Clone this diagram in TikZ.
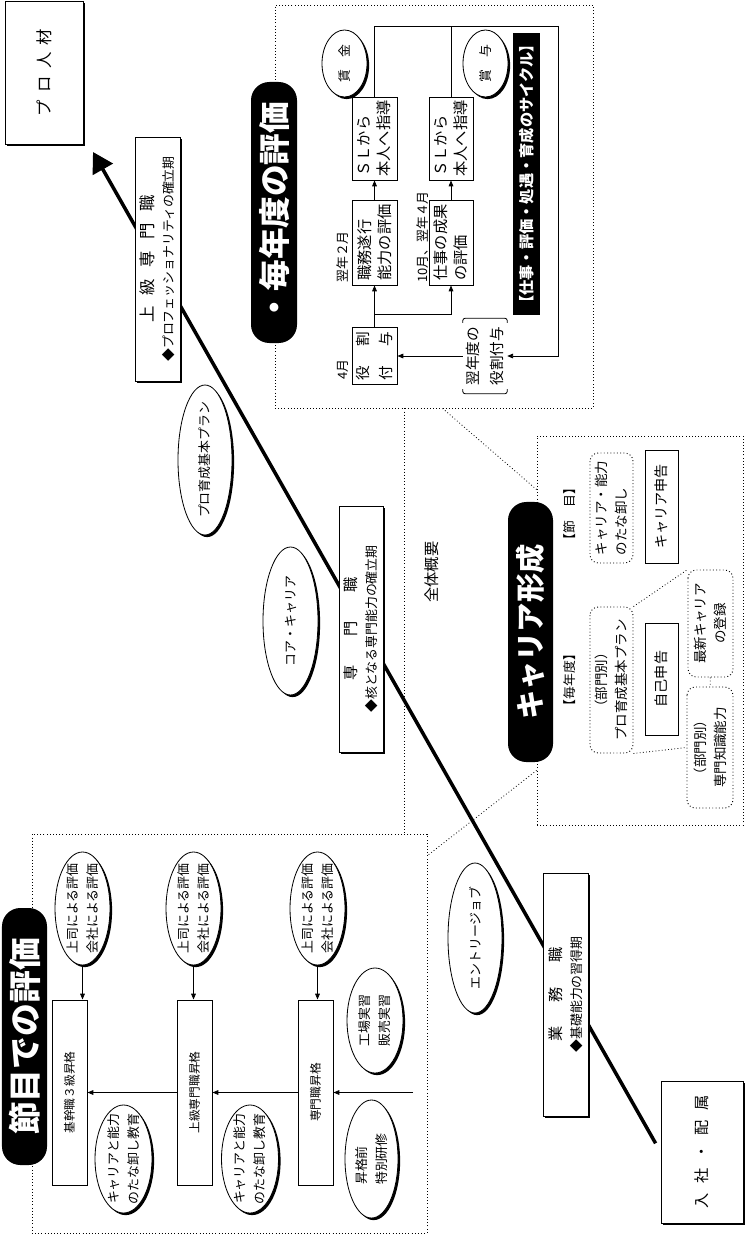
\documentclass[tikz,border=0pt]{standalone}
\usepackage{fontspec}
\setmainfont{Noto Sans CJK JP}
\usetikzlibrary{arrows.meta, shapes.geometric, shadows, calc, backgrounds}
\newcommand{\jsp}[1]{\hspace{#1em}}

\begin{document}
\begin{tikzpicture}[x=0.03cm, y=-0.03cm,
  base/.style={rotate=90, inner sep=0pt, align=center, font=\fontsize{11}{17}\selectfont},
  shade/.style={drop shadow={shadow xshift=1.8pt, shadow yshift=-1.8pt, opacity=1, fill=black}},
  mainbox/.style={base, draw, fill=white, line width=0.8pt, shade},
  oval/.style={base, ellipse, draw, fill=white, line width=0.7pt, inner sep=-20pt, shade},
  box/.style={base, draw, fill=white, line width=0.8pt},
  dbox/.style={base, draw, dotted, line width=0.8pt, rounded corners=7pt, font=\fontsize{11.5}{17}\selectfont},
  pill/.style={base, fill=black, text=white, rounded corners=0.55cm, font=\fontsize{27}{30}\selectfont\bfseries},
  panel/.style={draw, dotted, line width=0.7pt, inner sep=0pt},
  lbl/.style={base},
  arr/.style={-{Triangle[length=5pt,width=4pt]}, line width=0.7pt},
  dotline/.style={dotted, line width=0.7pt},
  mainline/.style={line width=3pt, -{Triangle[length=0.6cm,width=0.68cm]}}
]
\useasboundingbox (0,0) rectangle (745,1237);

% dotted panels
\node[panel, minimum width=9.54cm, minimum height=12.09cm] (nenpanel) at (434,206.5) {};
\node[panel, minimum width=6.18cm, minimum height=11.67cm] (carpanel) at (640,630.5) {};
\node[panel, minimum width=11.85cm, minimum height=11.97cm] (fushipanel) at (229.5,1033.5) {};
\draw[dotline] ($(nenpanel.south west)+(130,0)$) coordinate (vtop) -- (vtop |- fushipanel.north);
\draw[dotline] ($(nenpanel.south west)+(168,0)$) -- ($(carpanel.north west)+(0,54)$);
\draw[dotline] ($(carpanel.south west)+(0,-55)$) -- ($(fushipanel.north east)+(0,22)$);

\node[lbl, font=\fontsize{13}{15}\selectfont] (zentai) at (432,572) {全体概要};

% main steps
\node[mainbox, minimum width=4.29cm, minimum height=2.34cm, font=\fontsize{14}{16}\selectfont] (pro) at (44,72.5) {プ\jsp{.45}ロ\jsp{.45}人\jsp{.45}材};
\node[mainbox, minimum width=7.32cm, minimum height=1.35cm] (jokyu) at (157.5,259)
  {{\fontsize{14}{16}\selectfont 上\jsp{.7}級\jsp{.7}専\jsp{.7}門\jsp{.7}職}\\◆プロフェッショナリティの確立期};
\node[mainbox, minimum width=7.38cm, minimum height=1.32cm] (senmon) at (361,629)
  {{\fontsize{13}{16}\selectfont 専\jsp{1.9}門\jsp{1.9}職}\\◆核となる専門能力の確立期};
\node[mainbox, minimum width=7.29cm, minimum height=1.35cm] (gyomu) at (565.5,994.5)
  {{\fontsize{13}{16}\selectfont 業\jsp{1.6}務\jsp{1.6}職}\\◆基礎能力の習得期};
\node[mainbox, minimum width=4.26cm, minimum height=2.46cm, font=\fontsize{13}{16}\selectfont] (nyusha) at (702,1152) {入\jsp{.6}社\jsp{.6}・\jsp{.6}配\jsp{.6}属};
\coordinate (tip) at (93,152);
\begin{scope}[on background layer]
  \draw[mainline, shorten <=0.3cm] (nyusha.north) -- (tip);
\end{scope}

\node[oval, minimum width=4.5cm, minimum height=1.62cm] (proplan) at (205,460) {プロ育成基本プラン};
\node[oval, minimum width=4.44cm, minimum height=1.65cm] (core) at (290.5,621) {コア・キャリア};
\node[oval, minimum width=4.5cm, minimum height=1.62cm] (entry) at (475,938) {エントリージョブ};

% yearly evaluation
\node[pill, minimum width=7.83cm, minimum height=1.38cm] (nenpill) at (274,212.5) {・毎年度の評価};
\node[box, minimum width=1.71cm, minimum height=1.35cm, font=\fontsize{12.5}{20}\selectfont] (wari) at (374.5,356) {役\jsp{1.3}割\\付\jsp{1.3}与};
\node[lbl, anchor=west] (apr) at (343,380) {4月};
\node[box, minimum width=2.55cm, minimum height=1.35cm, align=left, font=\fontsize{13}{17}\selectfont] (shokumu) at (374.5,242.5) {職務遂行\\能力の評価};
\node[lbl, anchor=west] (feb) at (343,283) {翌年２月};
\node[box, minimum width=2.49cm, minimum height=1.35cm, align=left, font=\fontsize{13}{17}\selectfont] (slA) at (374.5,138.5) {ＳＬから\\本人へ指導};
\node[box, minimum width=2.55cm, minimum height=1.32cm, align=left, font=\fontsize{13}{17}\selectfont] (seika) at (451,242.5) {仕事の成果\\の評価};
\node[lbl, anchor=west] (oct) at (423,283) {10月、翌年４月};
\node[box, minimum width=2.49cm, minimum height=1.32cm, align=left, font=\fontsize{13}{17}\selectfont] (slB) at (451,138.5) {ＳＬから\\本人へ指導};
\node[oval, minimum width=2.01cm, minimum height=1.35cm] (chingin) at (344.5,63.5) {賃\jsp{1}金};
\node[oval, minimum width=2.01cm, minimum height=1.35cm] (shoyo) at (485.5,63.5) {賞\jsp{1}与};
\node[base, fill=black, text=white, minimum width=8.46cm, minimum height=0.81cm, font=\fontsize{13}{15}\selectfont\bfseries] (cycle) at (526.5,174) {【仕事・評価・処遇・育成のサイクル】};
\node[base, minimum width=2.25cm, minimum height=1.32cm, font=\fontsize{12.5}{20}\selectfont] (yokunen) at (485,356) {翌年度の\\役割付与};
\draw[line width=0.7pt, rounded corners=2pt] ([yshift=-4pt]yokunen.north east) -- (yokunen.north east) -- (yokunen.south east) -- ([yshift=-4pt]yokunen.south east);
\draw[line width=0.7pt, rounded corners=2pt] ([yshift=4pt]yokunen.north west) -- (yokunen.north west) -- (yokunen.south west) -- ([yshift=4pt]yokunen.south west);
\coordinate (ctop) at (558,26);
\draw[arr] (wari) -- (shokumu);
\draw[arr] (wari.east) ++(0,-13) -| (seika.west);
\draw[arr] (shokumu) -- (slA);
\draw[arr] (seika) -- (slB);
\draw[line width=0.7pt] (slA.east) |- (ctop);
\draw[line width=0.7pt] (slB.east) -- (slB.east |- ctop);
\draw[arr] (ctop) |- (yokunen.south);
\draw[arr] (yokunen) -- (wari);

% career building
\node[pill, minimum width=7.8cm, minimum height=1.35cm, font=\fontsize{25}{28}\selectfont\bfseries] (carpill) at (530.5,632) {キャリア形成};
\node[lbl] (maitoshi) at (570,680) {【毎年度】};
\node[lbl] (fushime) at (570,514) {【節\jsp{1}目】};
\node[dbox, minimum width=4.38cm, minimum height=1.29cm] (bumon) at (611.5,680) {（部門別）\\プロ育成基本プラン};
\node[box, minimum width=3.36cm, minimum height=0.99cm, font=\fontsize{12}{14}\selectfont] (jiko) at (661.5,679) {自己申告};
\node[dbox, minimum width=3.63cm, minimum height=1.38cm] (chishiki) at (710,747.5) {（部門別）\\専門知識能力};
\node[dbox, minimum width=3.21cm, minimum height=1.35cm] (saishin) at (710.5,623.5) {最新キャリア\\の登録};
\node[dbox, minimum width=3.3cm, minimum height=1.29cm, align=left] (tanaoroshi) at (611.5,508) {キャリア・能力\\のたな卸し};
\node[box, minimum width=3.39cm, minimum height=0.99cm, font=\fontsize{12}{14}\selectfont] (carshin) at (661.5,506.5) {キャリア申告};
\draw[dotline] (bumon.south east) -- (saishin.north east);
\draw[dotline] (bumon.south west) -- (chishiki.north);
\draw[dotline] (saishin) -- (chishiki);

% milestone evaluation
\node[pill, minimum width=7.71cm, minimum height=1.35cm, font=\fontsize{28}{30}\selectfont\bfseries] (fushipill) at (24.5,1036.5) {節目での評価};
\foreach \x/\t [count=\i] in {69.5/基幹職３級昇格, 194.5/上級専門職昇格, 315.5/専門職昇格}
  \node[box, minimum width=5.55cm, minimum height=1.05cm, font=\fontsize{10}{12}\selectfont] (shokaku\i) at (\x,1092.5) {\t};
\foreach \x [count=\i] in {82.5,193.5,317.5}
  {\node[oval, minimum width=3.39cm, minimum height=1.65cm] (hyoka\i) at (\x,908.5) {上司による評価\\会社による評価};
   \draw[arr] (hyoka\i.west) -- (hyoka\i.west |- shokaku\i.east);}
\node[oval, minimum width=3.24cm, minimum height=1.71cm] (tana1) at (123.5,1159) {キャリアと能力\\のたな卸し教育};
\node[oval, minimum width=3.24cm, minimum height=1.71cm] (tana2) at (250,1159) {キャリアと能力\\のたな卸し教育};
\node[oval, minimum width=3.15cm, minimum height=1.68cm] (jisshu) at (375,1020.5) {工場実習\\販売実習};
\node[oval, minimum width=3.54cm, minimum height=1.59cm, align=left] (kenshu) at (371.5,1159) {昇格前\\特別研修};
\coordinate (start) at (413,1092.5);
\draw[arr] (start) -- (shokaku3.south);
\draw[arr] (shokaku3.north) -- (shokaku2.south);
\draw[arr] (shokaku2.north) -- (shokaku1.south);
\end{tikzpicture}
\end{document}
